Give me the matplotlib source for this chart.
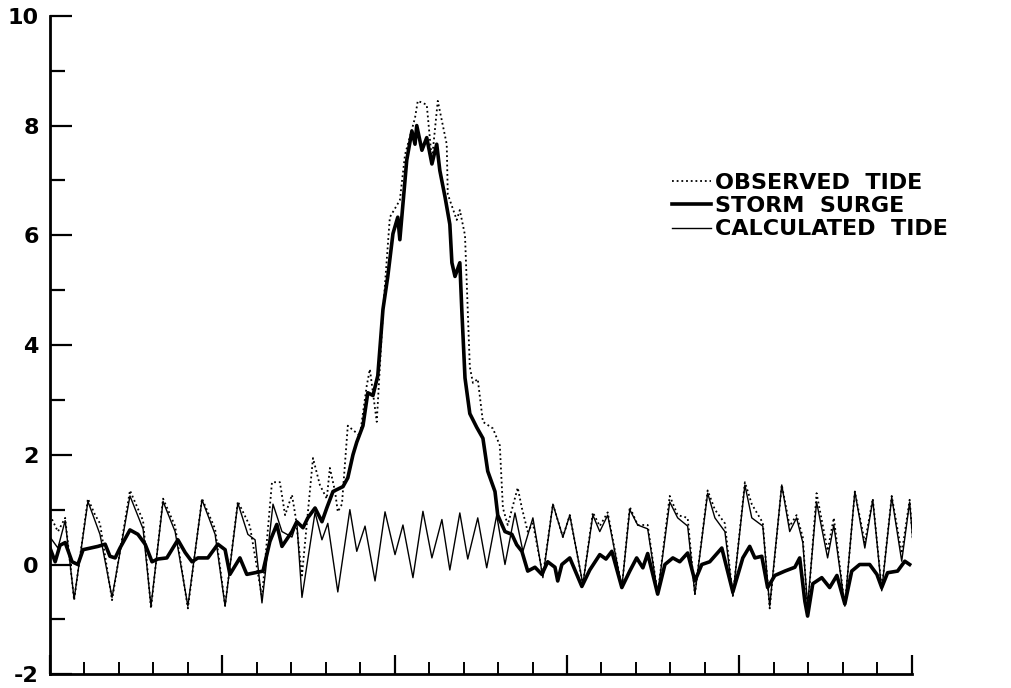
import numpy as np
import matplotlib.pyplot as plt
from matplotlib.ticker import MultipleLocator

# time axis in days, water level in feet
t_calc = [0.00, 0.23, 0.44, 0.70, 1.10, 1.45, 1.80, 2.32, 2.70, 2.93, 3.28, 3.63, 4.00,
          4.41, 4.79, 5.08, 5.45, 5.74, 5.95, 6.15, 6.47, 6.73, 7.02, 7.16, 7.31, 7.69,
          7.89, 8.06, 8.35, 8.70, 8.90, 9.14, 9.43, 9.72, 10.01, 10.24, 10.53, 10.82,
          11.08, 11.37, 11.60, 11.89, 12.12, 12.41, 12.67, 12.96, 13.20, 13.49, 13.72,
          14.01, 14.30, 14.59, 14.88, 15.08, 15.46, 15.75, 15.95, 16.18, 16.59, 16.82,
          17.05, 17.34, 17.63, 17.98, 18.21, 18.50, 18.71, 19.08, 19.29, 19.58, 19.81,
          20.16, 20.36, 20.68, 20.88, 21.23, 21.46, 21.66, 21.84, 21.98, 22.24, 22.56,
          22.74, 23.06, 23.35, 23.64, 23.87, 24.13, 24.42, 24.71, 24.94, 25.05]
calc_tide = [0.5, 0.3, 0.8, -0.63, 1.15, 0.55, -0.6, 1.25, 0.65, -0.76, 1.15, 0.6, -0.76,
             1.18, 0.55, -0.76, 1.12, 0.55, 0.45, -0.7, 1.1, 0.6, 0.5, 0.78, -0.6, 0.95,
             0.45, 0.75, -0.5, 1.0, 0.24, 0.7, -0.3, 0.96, 0.18, 0.72, -0.24, 0.97,
             0.12, 0.82, -0.1, 0.94, 0.1, 0.85, -0.06, 0.9, 0.0, 0.94, 0.24,
             0.85, -0.24, 1.1, 0.5, 0.9, -0.36, 0.9, 0.6, 0.9, -0.42, 1.0,
             0.72, 0.65, -0.54, 1.14, 0.85, 0.7, -0.54, 1.3, 0.85, 0.6, -0.58,
             1.45, 0.85, 0.7, -0.76, 1.45, 0.6, 0.85, 0.4, -0.75, 1.14, 0.12,
             0.72, -0.76, 1.33, 0.3, 1.18, -0.48, 1.23, 0.06, 1.14, 0.3]

t_obs = [0.00, 0.23, 0.44, 0.70, 1.10, 1.31, 1.45, 1.80, 2.32, 2.70, 2.93, 3.28, 3.63,
         4.00, 4.41, 4.79, 5.08, 5.45, 5.80, 6.15, 6.44, 6.67, 6.82, 7.02, 7.13, 7.31,
         7.63, 7.83, 8.03, 8.12, 8.27, 8.35, 8.47, 8.64, 8.79, 8.99, 9.19, 9.28, 9.48,
         9.66, 9.86, 10.15, 10.30, 10.59, 10.67, 10.93, 11.08, 11.25, 11.51, 11.54,
         11.80, 11.89, 12.04, 12.18, 12.27, 12.41, 12.56, 12.85, 13.05, 13.14, 13.28,
         13.57, 13.69, 13.86, 14.01, 14.30, 14.59, 14.88, 15.08, 15.46, 15.75, 15.95,
         16.18, 16.59, 16.82, 17.05, 17.34, 17.63, 17.98, 18.21, 18.50, 18.71, 19.08,
         19.29, 19.58, 19.81, 20.16, 20.36, 20.68, 20.88, 21.23, 21.46, 21.66, 21.84,
         21.98, 22.24, 22.56, 22.74, 23.06, 23.35, 23.64, 23.87, 24.13, 24.42, 24.71,
         24.94, 25.05]
obs_tide = [0.9, 0.6, 0.85, -0.65, 1.2, 0.9, 0.75, -0.65, 1.35, 0.8, -0.8, 1.2, 0.7,
            -0.8, 1.2, 0.65, -0.75, 1.15, 0.7, -0.6, 1.5, 1.5, 0.9, 1.27, 0.85, -0.2,
            1.94, 1.45, 1.2, 1.76, 1.33, 0.96, 1.1, 2.53, 2.45, 2.35, 3.26, 3.56, 2.6,
            4.6, 6.33, 6.64, 7.47, 8.14, 8.45, 8.38, 7.37, 8.45, 7.66, 6.75,
            6.28, 6.46, 6.0, 3.6, 3.31, 3.38, 2.6, 2.48, 2.17, 1.03, 0.72,
            1.4, 1.03, 0.6, 0.75, -0.2, 1.1, 0.5, 0.9, -0.36, 0.95, 0.7,
            0.95, -0.42, 1.05, 0.72, 0.72, -0.54, 1.25, 0.9, 0.85, -0.54, 1.35,
            1.0, 0.75, -0.58, 1.5, 1.1, 0.76, -0.8, 1.45, 0.7, 0.9, 0.5,
            -0.85, 1.3, 0.25, 0.85, -0.76, 1.33, 0.4, 1.2, -0.45, 1.25, 0.2,
            1.18, 0.3]

t_surge = [0.00, 0.15, 0.29, 0.44, 0.64, 0.81, 0.96, 1.39, 1.60, 1.74, 1.89, 2.03, 2.32,
           2.55, 2.76, 2.96, 3.13, 3.39, 3.71, 3.92, 4.12, 4.29, 4.58, 4.87, 5.08, 5.22,
           5.51, 5.71, 6.18, 6.38, 6.58, 6.73, 7.02, 7.16, 7.34, 7.48, 7.69, 7.89, 8.03,
           8.21, 8.50, 8.64, 8.79, 8.90, 9.08, 9.22, 9.37, 9.51, 9.66, 9.80, 9.95, 10.09,
           10.15, 10.24, 10.35, 10.50, 10.59, 10.64, 10.79, 10.93, 11.08, 11.22, 11.31,
           11.46, 11.60, 11.66, 11.75, 11.89, 11.95, 12.04, 12.18, 12.38, 12.56, 12.70,
           12.91, 12.99, 13.20, 13.40, 13.54, 13.69, 13.86, 14.07, 14.27, 14.44, 14.65,
           14.73, 14.85, 15.08, 15.43, 15.66, 15.95, 16.13, 16.30, 16.59, 16.82, 17.02,
           17.20, 17.34, 17.63, 17.84, 18.07, 18.27, 18.50, 18.71, 18.91, 19.14, 19.49,
           19.81, 20.10, 20.30, 20.45, 20.65, 20.82, 21.03, 21.32, 21.61, 21.75, 21.90,
           21.98, 22.13, 22.39, 22.62, 22.83, 23.06, 23.26, 23.49, 23.78, 23.99, 24.13,
           24.30, 24.59, 24.80, 24.94]
surge = [0.3, 0.05, 0.35, 0.4, 0.05, 0.0, 0.27, 0.33, 0.37, 0.15, 0.12, 0.3, 0.63,
         0.55, 0.37, 0.05, 0.1, 0.12, 0.45, 0.22, 0.05, 0.12, 0.12, 0.37, 0.27, -0.18,
         0.12, -0.18, -0.12, 0.42, 0.73, 0.33, 0.6, 0.78, 0.67, 0.85, 1.03, 0.78, 1.03,
         1.33, 1.42, 1.58, 2.0, 2.23, 2.53, 3.13, 3.08, 3.44, 4.65, 5.25, 6.03, 6.33,
         5.92, 6.57, 7.37, 7.9, 7.66, 8.0, 7.55, 7.78, 7.3, 7.66, 7.18,
         6.7, 6.2, 5.5, 5.25, 5.5, 4.6, 3.4, 2.75, 2.5, 2.3, 1.7,
         1.33, 0.9, 0.6, 0.55, 0.36, 0.24, -0.12, -0.05, -0.18, 0.05, -0.05,
         -0.3, 0.0, 0.12, -0.4, -0.1, 0.18, 0.1, 0.24, -0.42, -0.12, 0.12,
         -0.06, 0.2, -0.54, 0.0, 0.12, 0.05, 0.21, -0.3, 0.0, 0.05, 0.3,
         -0.5, 0.12, 0.33, 0.12, 0.15, -0.42, -0.2, -0.12, -0.05, 0.12, -0.67,
         -0.94, -0.35, -0.24, -0.42, -0.2, -0.72, -0.12, 0.0, 0.0, -0.18, -0.42,
         -0.15, -0.12, 0.06, 0.0]

y_ticks = [-2, 0, 2, 4, 6, 8, 10]

plt.rcParams['font.family'] = ['DejaVu Sans']

fig = plt.figure(figsize=(10.12, 6.88), dpi=100)
ax = fig.add_axes([0.0494, 0.02, 0.8515, 0.957])

ax.plot(t_obs, obs_tide, color='black', lw=1.3, linestyle=(0, (1, 1.6)),
        label='OBSERVED  TIDE')
ax.plot(t_surge, surge, color='black', lw=2.6, label='STORM  SURGE')
ax.plot(t_calc, calc_tide, color='black', lw=1.0, label='CALCULATED  TIDE')

ax.set_xlim(0, 25)
ax.set_ylim(-2, 10)

# axes only on the left and bottom, ticks pointing inward
for s in ['top', 'right']:
    ax.spines[s].set_visible(False)
for s in ['left', 'bottom']:
    ax.spines[s].set_linewidth(2.0)

ax.set_yticks(y_ticks)
ax.set_yticklabels([str(v) for v in y_ticks], fontsize=16, fontweight='bold')
ax.yaxis.set_minor_locator(MultipleLocator(1))
ax.tick_params(axis='y', which='major', direction='in', length=16, width=1.6, pad=8)
ax.tick_params(axis='y', which='minor', direction='in', length=11, width=1.6)

ax.xaxis.set_major_locator(MultipleLocator(5))
ax.xaxis.set_minor_locator(MultipleLocator(1))
ax.tick_params(axis='x', which='major', direction='in', length=14, width=1.6,
               labelbottom=False)
ax.tick_params(axis='x', which='minor', direction='in', length=9, width=1.4)

leg = ax.legend(loc='upper left', bbox_to_anchor=(0.653, 0.765),
                bbox_transform=fig.transFigure, frameon=False, handlelength=1.75,
                handletextpad=0.2, labelspacing=0.15, borderpad=0,
                prop={'size': 16, 'weight': 'bold'})

fig.savefig('out.png', dpi=100)
